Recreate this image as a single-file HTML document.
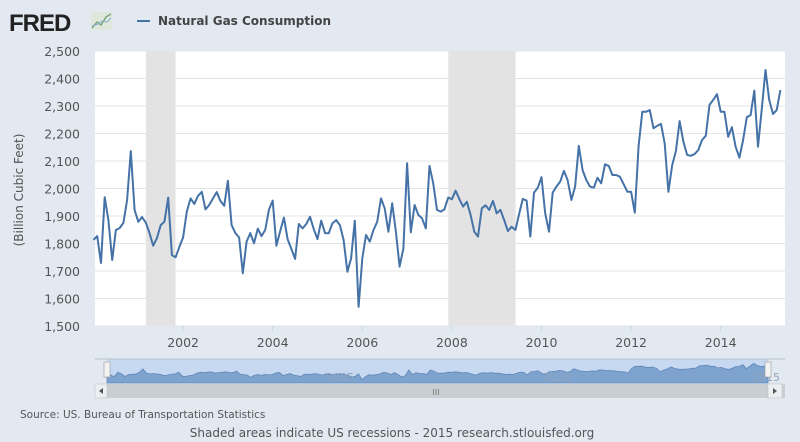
<!DOCTYPE html>
<html><head><meta charset="utf-8"><style>
html,body{margin:0;padding:0;background:#e2e9f1;}
body{width:800px;height:442px;overflow:hidden;font-family:"DejaVu Sans",sans-serif;}
svg text{font-family:"DejaVu Sans",sans-serif;}
</style></head><body>
<svg id="chart" width="800" height="442" style="display:block">
<rect x="0" y="0" width="800" height="442" fill="#e2e9f1"/>
<text x="9" y="31" font-size="24" font-weight="bold" fill="#222" letter-spacing="-1" style="font-family:'Liberation Sans',sans-serif">FRED</text>
<g><rect x="91" y="12" width="21" height="18" fill="#dfe6dc"/><polyline points="92,28 97,22 101,25 106,17 111,14" fill="none" stroke="#6a9a6a" stroke-width="1.2"/><polyline points="92,26 98,24 102,21 107,22 111,18" fill="none" stroke="#8ab0d0" stroke-width="1"/></g>
<line x1="137" y1="21" x2="150" y2="21" stroke="#4572a7" stroke-width="2"/>
<text x="158" y="25" font-size="12" font-weight="bold" fill="#444">Natural Gas Consumption</text>
<rect x="95" y="51" width="690" height="275" fill="#fff"/>
<g id="rec"></g><g id="grid"></g><g id="yl"></g><g id="xl"></g><g id="line"></g>
<text transform="translate(23,190) rotate(-90)" text-anchor="middle" font-size="12" fill="#555">(Billion Cubic Feet)</text>
<rect x="107" y="359" width="661" height="24" fill="#c6d9f0"/>
<line x1="95" y1="359" x2="785" y2="359" stroke="#b8c2cc"/>
<g id="nav"></g>
<text x="340" y="381" text-anchor="middle" font-size="11" fill="#8fa4bb">2005</text>
<text x="557" y="381" text-anchor="middle" font-size="11" fill="#8fa4bb">2010</text>
<text x="766" y="381" text-anchor="middle" font-size="11" fill="#8fa4bb">2015</text>
<rect x="104" y="362" width="6" height="15" fill="#f2f2f2" stroke="#999" stroke-width="0.6"/>
<rect x="765" y="362" width="6" height="15" fill="#f2f2f2" stroke="#999" stroke-width="0.6"/>
<rect x="95" y="384" width="690" height="14" fill="#c9ced3"/>
<rect x="95" y="384" width="12" height="14" fill="#eceff1" stroke="#bbb" stroke-width="0.5"/>
<polygon points="103,388 99,391 103,394" fill="#555"/>
<rect x="768" y="384" width="14" height="14" fill="#eceff1" stroke="#bbb" stroke-width="0.5"/>
<polygon points="773,388 777,391 773,394" fill="#555"/>
<text x="436" y="395" text-anchor="middle" font-size="8" fill="#777">III</text>
<text x="20" y="418" font-size="10.5" fill="#555">Source: US. Bureau of Transportation Statistics</text>
<text x="392" y="437" text-anchor="middle" font-size="12" fill="#555">Shaded areas indicate US recessions - 2015 research.stlouisfed.org</text>
</svg>
<script>
const values=[1813,1827,1729,1968,1885,1740,1849,1856,1875,1958,2136,1922,1879,1896,1876,1838,1792,1820,1867,1879,1967,1758,1750,1788,1822,1916,1964,1944,1973,1988,1924,1940,1964,1987,1955,1937,2028,1867,1838,1822,1692,1807,1838,1801,1854,1827,1849,1924,1956,1792,1845,1894,1816,1780,1744,1871,1855,1871,1897,1852,1816,1883,1838,
1837,1873,1885,1867,1813,1697,1746,1883,1570,1746,1831,1807,1849,1879,1964,1928,1843,1946,1843,1716,1782,2092,1841,1940,1904,1892,1855,2082,2019,1922,1916,1924,1967,1961,1992,1961,1934,1952,1904,1843,1825,1928,1939,1922,1955,1910,1922,1885,1845,1861,1849,1907,1962,1956,1825,1985,2003,2041,1910,1843,
1985,2007,2025,2064,2031,1958,2007,2155,2067,2031,2007,2003,2039,2019,2088,2082,2049,2049,2043,2016,1988,1988,1912,2155,2279,2279,2285,2219,2228,2235,2164,1988,2085,2136,2245,2170,2122,2119,2125,2140,2176,2192,2304,2322,2343,2279,2279,2188,2223,2152,2112,2176,2259,2267,2356,2152,2290,2431,2322,2271,2285,2358];
const startYear=2000;
const yTicks=[1500,1600,1700,1800,1900,2000,2100,2200,2300,2400,2500];
const xTicks=[2002,2004,2006,2008,2010,2012,2014];
const recessions=[[2001.17,2001.83],[2007.92,2009.42]];
const NS="http://www.w3.org/2000/svg";
function x(yr){return 93.5+(yr-2000)*44.8;}
function y(v){return 326-(v-1500)*0.275;}
function dateOf(i){return startYear+i/12;}
function mk(tag,attrs,parent){const e=document.createElementNS(NS,tag);for(const k in attrs)e.setAttribute(k,attrs[k]);document.getElementById(parent).appendChild(e);return e;}
recessions.forEach(r=>{const e=mk('rect',{x:x(r[0]),y:51,width:x(r[1])-x(r[0]),height:275,fill:'#e3e3e3'},'rec');

});
yTicks.forEach(v=>{const l=mk('line',{x1:95,x2:785,y1:y(v),y2:y(v),stroke:'#e4e4e4','stroke-width':1},'grid');


const t=mk('text',{x:80,y:y(v)+5,'text-anchor':'end','font-size':12.5,fill:'#555'},'yl');


t.textContent=v.toLocaleString('en-US');});
xTicks.forEach(yr=>{const l=mk('line',{x1:x(yr),x2:x(yr),y1:326,y2:331,stroke:'#ccd6e0'},'xl');


const t=mk('text',{x:x(yr),y:347,'text-anchor':'middle','font-size':12.5,fill:'#555'},'xl');


t.textContent=yr;});
const pts=values.map((v,i)=>x(dateOf(i)).toFixed(1)+','+y(v).toFixed(1)).join(' ');
const p=mk('polyline',{points:pts,fill:'none',stroke:'#4572a7','stroke-width':2,'stroke-linejoin':'round'},'line');


const n=values.length;
function nx(i){return 107+i*(661/(n-1));}
function ny(v){return 383-(v-1400)*0.019;}
let d='M'+nx(0)+',383 '+values.map((v,i)=>'L'+nx(i).toFixed(1)+','+ny(v).toFixed(1)).join(' ')+' L'+nx(n-1)+',383 Z';
const a=mk('path',{d:d,fill:'#7fa3cf',stroke:'#5f86b8','stroke-width':0.8},'nav');


</script>
</body></html>
